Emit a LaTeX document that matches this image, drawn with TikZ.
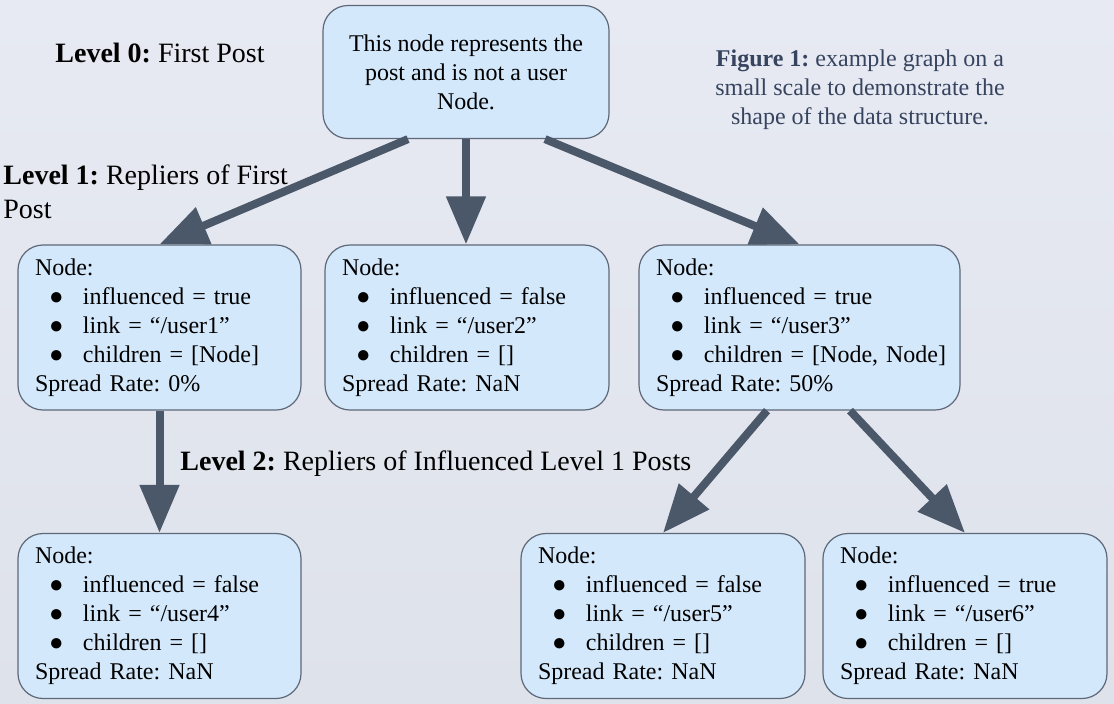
\documentclass[tikz,border=0pt]{standalone}
\usepackage{fontspec}
\setmainfont{Liberation Serif}
\usetikzlibrary{arrows.meta,calc}
\frenchspacing
\definecolor{bgtop}{HTML}{E7EAF2}
\definecolor{bgbot}{HTML}{DEE2EB}
\definecolor{boxfill}{HTML}{D4E8FB}
\definecolor{boxline}{HTML}{5E6878}
\definecolor{arrowc}{HTML}{4B5869}
\definecolor{capc}{HTML}{37445F}
\newcommand{\itm}[1]{\mbox{\hspace*{7pt}\makebox[17pt][l]{●}#1}}
\begin{document}
\begin{tikzpicture}[x=0.5pt,y=-0.5pt,
  font=\fontsize{12}{14.5}\selectfont\frenchspacing,
  box/.style={draw=boxline, fill=boxfill, line width=0.6pt, rounded corners=12.5pt,
    minimum height=82.5pt, inner xsep=8.5pt, align=left, text width=#1},
  topbox/.style={draw=boxline, fill=boxfill, line width=0.6pt, rounded corners=12.5pt,
    minimum width=143pt, minimum height=66.5pt, align=center},
  conn/.style={draw=arrowc, line width=4pt, -{Triangle[length=24pt,width=19pt]}},
  lvl/.style={font=\fontsize{14}{17}\selectfont\frenchspacing, inner sep=0pt, anchor=west, align=left},
  figcap/.style={text=capc, align=center, inner sep=0pt}]
\useasboundingbox (0,0) rectangle (1114,703);
\shade[top color=bgtop, bottom color=bgbot] (0,0) rectangle (1114,703);

\node[topbox] (top) at (466,72) {This node represents the\\post and is not a user\\Node.};

\node[box=124.5pt] (b1) at (159.5,327.5) {Node:\\\itm{influenced = true}\\\itm{link = “/user1”}\\\itm{children = [Node]}\\Spread Rate: 0\%};
\node[box=125pt] (b2) at (467,327.5) {Node:\\\itm{influenced = false}\\\itm{link = “/user2”}\\\itm{children = []}\\Spread Rate: NaN};
\node[box=143.5pt] (b3) at (799.5,327.5) {Node:\\\itm{influenced = true}\\\itm{link = “/user3”}\\\itm{children = [Node, Node]}\\Spread Rate: 50\%};
\node[box=124.5pt] (b4) at (159.5,616) {Node:\\\itm{influenced = false}\\\itm{link = “/user4”}\\\itm{children = []}\\Spread Rate: NaN};
\node[box=125pt] (b5) at (663,616) {Node:\\\itm{influenced = false}\\\itm{link = “/user5”}\\\itm{children = []}\\Spread Rate: NaN};
\node[box=125pt] (b6) at (965,616) {Node:\\\itm{influenced = true}\\\itm{link = “/user6”}\\\itm{children = []}\\Spread Rate: NaN};

\draw[conn] ([xshift=-29pt]top.south) -- (b1.north);
\draw[conn] (top.south) -- (top.south |- b2.north);
\draw[conn] ([xshift=39.5pt]top.south) -- (b3.north);
\draw[conn] (b1.south) -- (b4.north);
\draw[conn] ([xshift=-16.25pt]b3.south) -- (b5.north);
\draw[conn] ([xshift=25.25pt]b3.south) -- (b6.north);

\node[lvl] (l0) at (55,53) {\textbf{Level 0:} First Post};
\node[lvl] (l1) at (3,192) {\textbf{Level 1:} Repliers of First\\Post};
\node[lvl] (l2) at (180,464) {\textbf{Level 2:} Repliers of Influenced Level 1 Posts};

\node[figcap] (fig) at (860,90) {\textbf{Figure 1:} example graph on a\\small scale to demonstrate the\\shape of the data structure.};
\end{tikzpicture}
\end{document}
